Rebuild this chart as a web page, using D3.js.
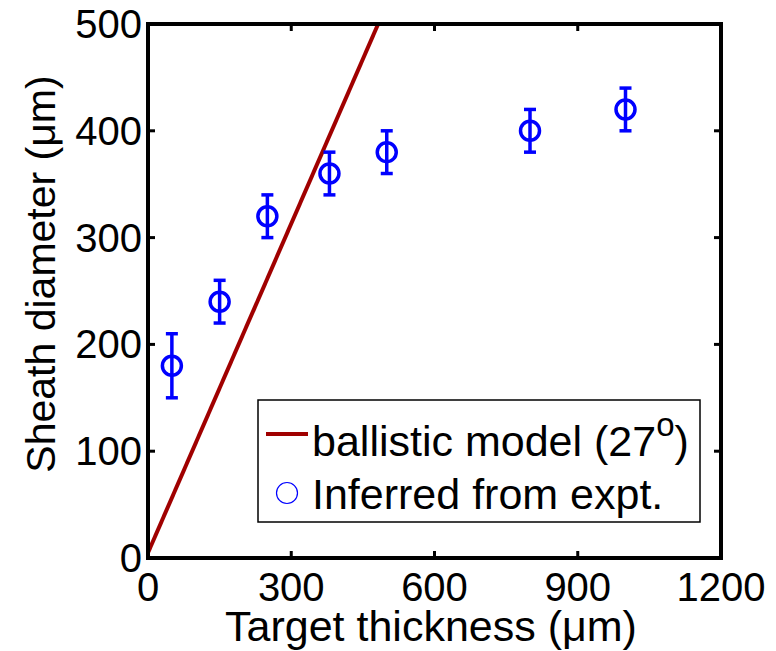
<!DOCTYPE html>
<html>
<head>
    <meta charset="utf-8">
    <title>Sheath diameter vs target thickness</title>
    <script src="https://d3js.org/d3.v7.min.js"></script>
    <style>
        body { margin: 0; background: #fff; }
        text { font-family: "Liberation Sans", Arial, sans-serif; fill: #000; }
    </style>
</head>
<body>
    <div id="chart"></div>

    <script>
        // measured sheath diameters
        const thickness = [50, 150, 250, 380, 500, 800, 1000];
        const diameter = [180, 240, 320, 360, 380, 400, 420];
        const errBar = [30, 20, 20, 20, 20, 20, 20];

        // ballistic model line endpoints
        const modelThickness = [0, 482];
        const modelDiameter = [5, 500];

        const xTicks = [0, 300, 600, 900, 1200];
        const yTicks = [0, 100, 200, 300, 400, 500];

        const width = 776, height = 651;
        const margin = { left: 148, right: 55, top: 24, bottom: 93 };

        const svg = d3.select("#chart")
            .append("svg")
            .attr("width", width)
            .attr("height", height);

        const x = d3.scaleLinear().domain([0, 1200]).range([margin.left, width - margin.right]);
        const y = d3.scaleLinear().domain([0, 500]).range([height - margin.bottom, margin.top]);

        svg.append("clipPath").attr("id", "plot-clip")
            .append("rect")
            .attr("x", x(0)).attr("y", y(500))
            .attr("width", x(1200) - x(0)).attr("height", y(0) - y(500));

        // model line
        const modelPts = modelThickness.map((t, i) => [t, modelDiameter[i]]);
        svg.append("path")
            .datum(modelPts)
            .attr("clip-path", "url(#plot-clip)")
            .attr("fill", "none")
            .attr("stroke", "#a00000")
            .attr("stroke-width", 4)
            .attr("d", d3.line().x(d => x(d[0])).y(d => y(d[1])));

        // error bars and circles
        const pts = thickness.map((t, i) => ({ t: t, d: diameter[i], e: errBar[i] }));
        const g = svg.append("g").attr("stroke", "#0000ff").attr("stroke-width", 3.5).attr("fill", "none");
        const cap = 6;
        pts.forEach(p => {
            g.append("line")
                .attr("x1", x(p.t)).attr("x2", x(p.t))
                .attr("y1", y(p.d + p.e)).attr("y2", y(p.d - p.e));
            [p.d + p.e, p.d - p.e].forEach(v => {
                g.append("line")
                    .attr("x1", x(p.t) - cap).attr("x2", x(p.t) + cap)
                    .attr("y1", y(v)).attr("y2", y(v));
            });
            g.append("circle")
                .attr("cx", x(p.t)).attr("cy", y(p.d))
                .attr("r", 9.5);
        });

        // axes box with inward ticks
        const tickLen = 7;
        const axisStroke = 4;
        const ax = svg.append("g").attr("stroke", "#000");

        ax.selectAll("line.xt")
            .data(xTicks.slice(1, -1))
            .enter().append("line")
            .attr("class", "xt")
            .attr("stroke-width", 3)
            .attr("x1", d => x(d)).attr("x2", d => x(d))
            .attr("y1", y(0)).attr("y2", y(0) - tickLen);
        ax.selectAll("line.xtt")
            .data(xTicks.slice(1, -1))
            .enter().append("line")
            .attr("class", "xtt")
            .attr("stroke-width", 3)
            .attr("x1", d => x(d)).attr("x2", d => x(d))
            .attr("y1", y(500)).attr("y2", y(500) + tickLen);
        ax.selectAll("line.yt")
            .data(yTicks.slice(1, -1))
            .enter().append("line")
            .attr("class", "yt")
            .attr("stroke-width", 3)
            .attr("x1", x(0)).attr("x2", x(0) + tickLen)
            .attr("y1", d => y(d)).attr("y2", d => y(d));
        ax.selectAll("line.ytr")
            .data(yTicks.slice(1, -1))
            .enter().append("line")
            .attr("class", "ytr")
            .attr("stroke-width", 3)
            .attr("x1", x(1200)).attr("x2", x(1200) - tickLen)
            .attr("y1", d => y(d)).attr("y2", d => y(d));

        ax.append("rect")
            .attr("x", x(0)).attr("y", y(500))
            .attr("width", x(1200) - x(0)).attr("height", y(0) - y(500))
            .attr("fill", "none")
            .attr("stroke-width", axisStroke);

        // tick labels
        svg.selectAll("text.xl")
            .data(xTicks)
            .enter().append("text")
            .attr("class", "xl")
            .attr("x", d => x(d))
            .attr("y", y(0) + 43)
            .attr("text-anchor", "middle")
            .style("font-size", "40px")
            .text(d => d);

        svg.selectAll("text.yl")
            .data(yTicks)
            .enter().append("text")
            .attr("class", "yl")
            .attr("x", x(0) - 6)
            .attr("y", d => y(d) + 14)
            .attr("text-anchor", "end")
            .style("font-size", "40px")
            .text(d => d);

        // axis titles
        svg.append("text")
            .attr("x", 431)
            .attr("y", 641)
            .attr("text-anchor", "middle")
            .style("font-size", "43px")
            .text("Target thickness (μm)");

        svg.append("text")
            .attr("transform", "translate(55,274) rotate(-90)")
            .attr("text-anchor", "middle")
            .style("font-size", "41px")
            .text("Sheath diameter (μm)");

        // legend
        const leg = svg.append("g");
        leg.append("rect")
            .attr("x", 258).attr("y", 400)
            .attr("width", 442).attr("height", 122)
            .attr("fill", "#fff")
            .attr("stroke", "#000")
            .attr("stroke-width", 1.5);
        leg.append("line")
            .attr("x1", 266).attr("x2", 308)
            .attr("y1", 434).attr("y2", 434)
            .attr("stroke", "#a00000")
            .attr("stroke-width", 4);
        const t1 = leg.append("text")
            .attr("x", 312).attr("y", 456)
            .style("font-size", "43px");
        t1.append("tspan").text("ballistic model (27");
        t1.append("tspan").attr("dy", -20).style("font-size", "33px").text("o");
        t1.append("tspan").attr("dy", 20).text(")");
        leg.append("circle")
            .attr("cx", 287).attr("cy", 493)
            .attr("r", 10.5)
            .attr("fill", "none")
            .attr("stroke", "#0000ff")
            .attr("stroke-width", 1.2);
        leg.append("text")
            .attr("x", 312).attr("y", 509)
            .style("font-size", "43px")
            .text("Inferred from expt.");
    </script>
</body>
</html>
